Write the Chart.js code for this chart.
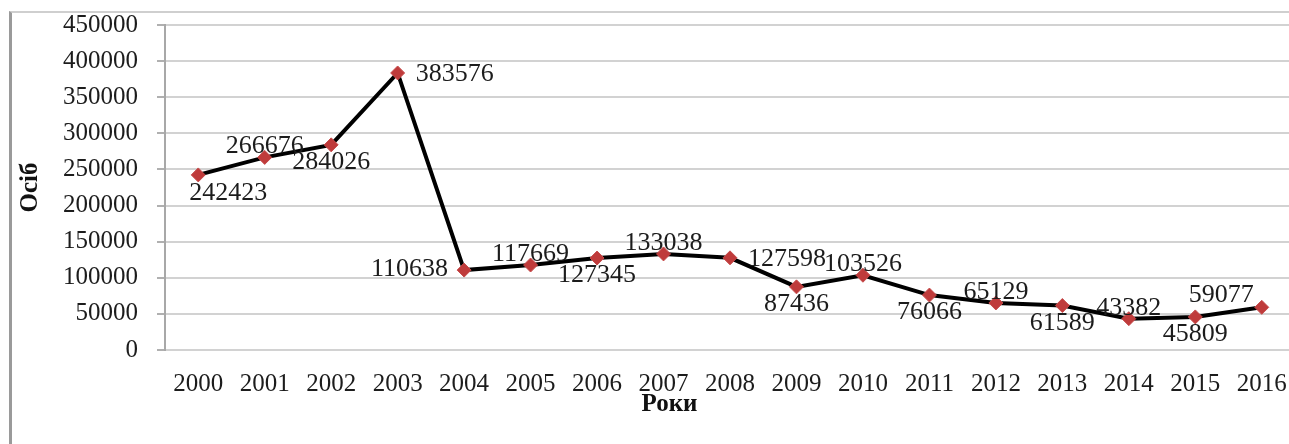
<!DOCTYPE html>
<html lang="uk">
<head>
<meta charset="utf-8">
<title>Осіб по роках</title>
<script src="https://cdn.jsdelivr.net/npm/chart.js@4.4.1/dist/chart.umd.min.js"></script>
<style>
    html, body {
        margin: 0;
        padding: 0;
        background: #fff;
        overflow: hidden;
    }
    #wrap {
        position: relative;
        width: 1289px;
        height: 444px;
        overflow: hidden;
    }
    #frame {
        position: absolute;
        left: 9px;
        top: 11px;
        right: 0;
        bottom: 0;
        border-left: 3px solid #9a9a9a;
        border-top: 2px solid #cfcfcf;
    }
    #box {
        position: absolute;
        left: 0;
        top: 0;
        width: 1306px;
        height: 444px;
    }
</style>
</head>
<body>
<div id="wrap">
    <div id="frame"></div>
    <div id="box"><canvas id="personsChart"></canvas></div>
</div>

<script>
// =============================
// DATA
// =============================
const years = [
    "2000","2001","2002","2003","2004","2005","2006","2007","2008",
    "2009","2010","2011","2012","2013","2014","2015","2016"
];

const persons = [
    242423, 266676, 284026, 383576, 110638, 117669, 127345, 133038, 127598,
    87436, 103526, 76066, 65129, 61589, 43382, 45809, 59077
];

const yTicks = [0, 50000, 100000, 150000, 200000, 250000, 300000, 350000, 400000, 450000];

// where each value label sits next to its point (style only)
const labelPos = [
    "below-right","above","below","right","left","above","below","above","right",
    "below","above","below","above","below","above","below","left-above"
];

const SERIF = '"Liberation Serif", "Times New Roman", serif';

document.addEventListener("DOMContentLoaded", () => {

    // -------------------------
    // Value labels
    // -------------------------
    const pointLabels = {
        id: "pointLabels",
        afterDatasetsDraw(chart) {
            const ctx = chart.ctx;
            const meta = chart.getDatasetMeta(0);

            ctx.save();
            ctx.font = "26px " + SERIF;
            ctx.fillStyle = "#1c1c1c";
            ctx.textBaseline = "alphabetic";

            meta.data.forEach((pt, i) => {
                const text = String(persons[i]);
                const pos = labelPos[i];
                let x = pt.x;
                let y = pt.y;

                if (pos === "above") {
                    ctx.textAlign = "center";
                    y = y - 4;
                } else if (pos === "below") {
                    ctx.textAlign = "center";
                    y = y + 24;
                } else if (pos === "below-right") {
                    ctx.textAlign = "left";
                    x = x - 9;
                    y = y + 25;
                } else if (pos === "right") {
                    ctx.textAlign = "left";
                    x = x + 18;
                    y = y + 8;
                } else if (pos === "left") {
                    ctx.textAlign = "right";
                    x = x - 16;
                    y = y + 6;
                } else if (pos === "left-above") {
                    ctx.textAlign = "right";
                    x = x - 8;
                    y = y - 5;
                }

                ctx.fillText(text, x, y);
            });

            ctx.restore();
        }
    };

    // -------------------------
    // X axis title (sits under 2007)
    // -------------------------
    const xTitle = {
        id: "xTitle",
        afterDraw(chart) {
            const ctx = chart.ctx;
            const xs = chart.scales.x;

            ctx.save();
            ctx.font = "bold 25px " + SERIF;
            ctx.fillStyle = "#111";
            ctx.textAlign = "center";
            ctx.textBaseline = "middle";
            ctx.fillText("Роки", xs.getPixelForValue(7) + 6, 405);
            ctx.restore();
        }
    };

    // -------------------------
    // Line chart
    // -------------------------
    const canvas = document.getElementById("personsChart");

    new Chart(canvas, {
        type: "line",

        data: {
            labels: years,
            datasets: [{
                label: "Осіб",
                data: persons,
                borderColor: "#000",
                borderWidth: 4,
                tension: 0,
                fill: false,
                pointStyle: "rectRot",
                pointRadius: 7,
                pointHoverRadius: 7,
                pointBackgroundColor: "#bf3b3b",
                pointBorderColor: "#c64c4c",
                pointBorderWidth: 1
            }]
        },

        options: {
            responsive: true,
            maintainAspectRatio: false,
            animation: false,

            layout: {
                padding: { top: 25, left: 0, right: 0, bottom: 0 }
            },

            plugins: {
                legend: { display: false },
                tooltip: { enabled: false }
            },

            scales: {
                x: {
                    offset: true,
                    grid: { display: false, drawTicks: false },
                    border: { display: false },
                    ticks: {
                        padding: 19,
                        maxRotation: 0,
                        autoSkip: false,
                        color: "#1c1c1c",
                        font: { family: SERIF, size: 25 }
                    },
                    afterFit(scale) {
                        scale.height = 94;
                    }
                },

                y: {
                    min: 0,
                    max: 450000,
                    afterBuildTicks(scale) {
                        scale.ticks = yTicks.map(v => ({ value: v }));
                    },
                    grid: {
                        color: "#d2d2d2",
                        lineWidth: 2,
                        tickLength: 8,
                        tickColor: "#b0b0b0"
                    },
                    border: {
                        display: true,
                        color: "#a8a8a8",
                        width: 2
                    },
                    ticks: {
                        padding: 19,
                        color: "#1c1c1c",
                        font: { family: SERIF, size: 25 },
                        callback: v => String(v)
                    },
                    title: {
                        display: true,
                        text: "Осіб",
                        color: "#111",
                        font: { family: SERIF, size: 25, weight: "bold" },
                        padding: { top: 16, bottom: 0 }
                    },
                    afterFit(scale) {
                        scale.width = 165;
                        // no extra room for the top label, the 25px padding covers it
                        scale.paddingTop = 0;
                        scale.paddingBottom = 0;
                    }
                }
            }
        },

        plugins: [pointLabels, xTitle]
    });

});
</script>
</body>
</html>
